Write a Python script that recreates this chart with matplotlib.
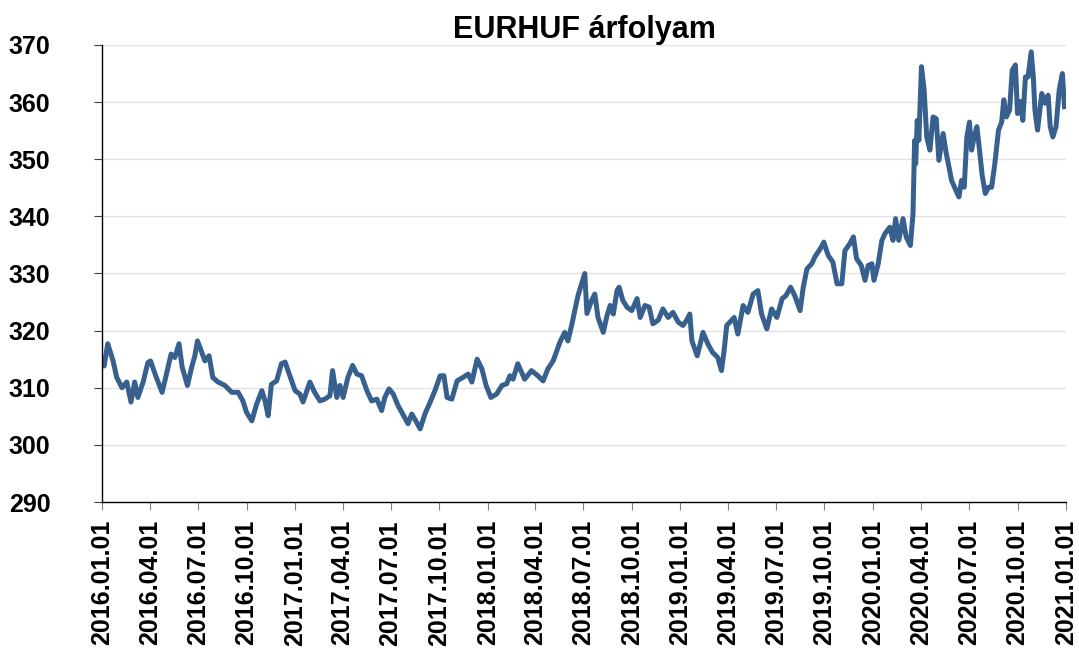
import matplotlib
matplotlib.use("Agg")
import matplotlib.pyplot as plt
import matplotlib.dates as mdates
import numpy as np

# napok 2016.01.01-tol, es az arfolyam (leolvasva)
days = [0, 4, 11, 21, 28, 38, 47, 55, 62, 68, 78, 87, 92, 103, 114, 123, 131, 138, 146, 152,
        162, 170, 176, 181, 188, 195, 203, 210, 220, 233, 246, 258, 267, 274, 284, 293, 303, 309, 315, 321,
        331, 340, 347, 356, 366,
        375, 381, 394, 403, 413, 422, 432, 437, 445, 451, 457, 466, 475, 483, 492, 502, 511, 521, 530, 536,
        544, 552, 561, 570, 580, 587, 596, 603, 612, 622, 631, 641, 648, 654, 663, 673, 684, 694, 701, 711,
        720, 728, 737, 748, 758, 767, 773, 779, 788,
        801, 814, 826, 836, 845, 855, 868, 877, 883, 890, 896, 902, 909, 915, 919, 928, 934, 940, 950, 957,
        963, 969, 976, 980, 987, 995, 1004, 1014, 1020, 1029, 1037, 1044, 1054, 1063, 1073, 1082, 1092, 1101,
        1108, 1114, 1118, 1128, 1133,
        1139, 1148, 1157, 1167, 1174, 1179, 1184, 1193, 1198, 1205, 1215, 1224, 1234, 1243, 1250, 1260, 1269,
        1279, 1289, 1296, 1305, 1313, 1323, 1329, 1336, 1345, 1351, 1361, 1368, 1376, 1385, 1393, 1402, 1408,
        1417, 1424, 1430, 1439, 1446, 1452, 1459, 1463, 1471, 1478,
        1484, 1493, 1499, 1504, 1510, 1518, 1524, 1532, 1537, 1540, 1542, 1545, 1548, 1553, 1558, 1563, 1569,
        1575, 1581, 1586, 1594, 1600, 1605, 1610, 1618, 1624, 1629, 1634, 1639, 1644, 1648, 1653, 1658, 1663,
        1668, 1674, 1680, 1686, 1692, 1699, 1705, 1709, 1714, 1720, 1725, 1731, 1735, 1741, 1745, 1750, 1755,
        1761, 1765, 1768, 1773, 1781, 1787, 1793, 1797, 1802, 1808, 1814, 1820, 1824]

eurhuf = [315.0, 313.8, 317.7, 314.7, 311.8, 310.0, 311.0, 307.5, 311.0, 308.3, 311.0, 314.4, 314.7, 311.8,
          309.2, 312.7, 315.9, 315.3, 317.7, 313.6, 310.4, 313.6, 315.6, 318.2, 316.5, 314.7, 315.6, 311.8,
          311.0, 310.4, 309.2, 309.2, 307.7, 305.7, 304.2, 307.1, 309.5, 307.7, 305.1, 310.6, 311.2, 314.2,
          314.5, 312.1, 309.5,
          308.9, 307.5, 311.0, 309.2, 307.7, 308.0, 308.6, 313.0, 308.3, 310.4, 308.3, 311.8, 313.9, 312.4,
          312.1, 309.5, 307.7, 308.0, 306.0, 308.3, 309.8, 308.9, 306.9, 305.4, 303.7, 305.4, 304.0, 302.8,
          305.4, 307.5, 309.5, 312.1, 312.1, 308.3, 308.0, 311.2, 311.8, 312.4, 311.0, 315.0, 313.3, 310.4,
          308.3, 308.9, 310.4, 310.7, 312.1, 311.5, 314.2,
          311.5, 313.0, 312.1, 311.2, 313.3, 314.7, 318.0, 319.7, 318.2, 320.9, 323.5, 326.1, 328.2, 330.0,
          323.0, 325.3, 326.4, 322.3, 319.7, 322.6, 324.4, 322.9, 327.0, 327.6, 325.3, 324.1, 323.5, 325.6,
          322.3, 324.4, 324.1, 321.2, 321.8, 323.8, 322.3, 323.2, 321.5, 320.9, 321.8, 322.9, 318.2, 315.6,
          317.4,
          319.7, 317.7, 316.2, 315.3, 313.0, 316.5, 320.9, 321.8, 322.3, 319.4, 324.4, 323.2, 326.4, 327.0,
          322.9, 320.3, 323.8, 322.3, 325.6, 326.1, 327.6, 326.1, 323.5, 327.6, 330.8, 331.7, 332.9, 334.3,
          335.5, 333.2, 332.0, 328.2, 328.2, 334.0, 335.2, 336.4, 332.6, 331.4, 328.8, 331.4, 331.7, 328.8,
          331.7, 335.8,
          337.0, 338.1, 335.8, 339.6, 335.8, 339.6, 336.4, 334.9, 340.5, 353.3, 349.2, 356.8, 353.3, 366.2,
          362.1, 353.9, 351.6, 357.4, 357.1, 349.8, 354.5, 351.0, 348.7, 346.3, 344.6, 343.4, 346.3, 345.1,
          353.9, 356.5, 351.6, 353.9, 355.7, 351.6, 347.2, 344.0, 345.1, 345.1, 349.2, 355.1, 356.5, 360.4,
          357.4, 358.6, 365.6, 366.5, 358.0, 360.1, 356.8, 364.4, 364.4, 368.8, 364.4, 358.6, 355.1, 361.5,
          359.8, 361.2, 355.7, 353.9, 355.7, 362.1, 365.0, 359.2]

tick_dates = ["2016-01-01", "2016-04-01", "2016-07-01", "2016-10-01",
              "2017-01-01", "2017-04-01", "2017-07-01", "2017-10-01",
              "2018-01-01", "2018-04-01", "2018-07-01", "2018-10-01",
              "2019-01-01", "2019-04-01", "2019-07-01", "2019-10-01",
              "2020-01-01", "2020-04-01", "2020-07-01", "2020-10-01", "2021-01-01"]

dates = np.datetime64("2016-01-01") + np.array(days, dtype="timedelta64[D]")
ticks = np.array(tick_dates, dtype="datetime64[D]")

plt.rcParams["font.family"] = ["Liberation Sans", "DejaVu Sans"]
plt.rcParams["font.weight"] = "bold"

fig = plt.figure(figsize=(10.79, 6.48), dpi=100)
ax = fig.add_axes([0.0945, 0.2253, 0.8935, 0.7053])

ax.plot(dates, eurhuf, color="#37608f", linewidth=3.6, solid_joinstyle="round")

ax.set_ylim(290, 370)
ax.set_yticks(np.arange(290, 371, 10))
ax.set_xlim(ticks[0], ticks[-1])
ax.set_xticks(ticks)
ax.xaxis.set_major_formatter(mdates.DateFormatter("%Y.%m.%d"))

ax.grid(axis="y", color="#e3e3e3", linewidth=1)
ax.set_axisbelow(True)
for s in ["top", "right"]:
    ax.spines[s].set_visible(False)
for s in ["left", "bottom"]:
    ax.spines[s].set_color("black")
    ax.spines[s].set_linewidth(1)

ax.tick_params(axis="y", labelsize=18, length=6, color="#404040", pad=31)
ax.tick_params(axis="x", labelsize=18, length=6, color="#808080", pad=7, labelrotation=90)
for lab in ax.get_xticklabels() + ax.get_yticklabels():
    lab.set_fontweight("bold")

ax.set_title("EURHUF árfolyam", fontsize=22, fontweight="bold", pad=4)

fig.savefig("out.png", dpi=100)
